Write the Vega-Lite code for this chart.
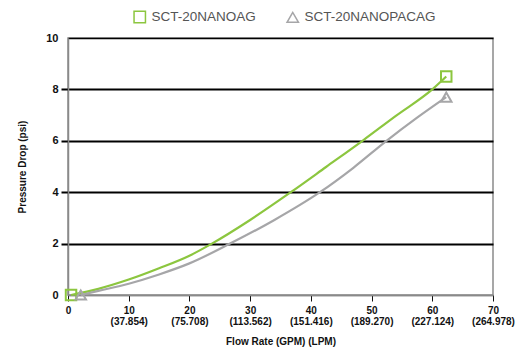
{
  "$schema": "https://vega.github.io/schema/vega-lite/v6.json",
  "autosize": {"type": "none"},
  "padding": {"left": 68, "top": 38, "right": 27, "bottom": 56},
  "width": 425,
  "height": 257,
  "config": {
    "font": "Liberation Sans",
    "view": {"stroke": "#8a8a8a", "strokeWidth": 1.5}
  },
  "datasets": {
    "curves": [
      {"series": "SCT-20NANOAG", "flow": 0.5, "psi": 0},
      {"series": "SCT-20NANOAG", "flow": 5, "psi": 0.24},
      {"series": "SCT-20NANOAG", "flow": 10, "psi": 0.6},
      {"series": "SCT-20NANOAG", "flow": 15, "psi": 1.04},
      {"series": "SCT-20NANOAG", "flow": 20, "psi": 1.53},
      {"series": "SCT-20NANOAG", "flow": 23.7, "psi": 2},
      {"series": "SCT-20NANOAG", "flow": 30, "psi": 2.92},
      {"series": "SCT-20NANOAG", "flow": 36.7, "psi": 4},
      {"series": "SCT-20NANOAG", "flow": 42.5, "psi": 4.98},
      {"series": "SCT-20NANOAG", "flow": 48.5, "psi": 6},
      {"series": "SCT-20NANOAG", "flow": 54, "psi": 6.97},
      {"series": "SCT-20NANOAG", "flow": 60, "psi": 8},
      {"series": "SCT-20NANOAG", "flow": 62.3, "psi": 8.5},
      {"series": "SCT-20NANOPACAG", "flow": 2.1, "psi": 0},
      {"series": "SCT-20NANOPACAG", "flow": 5, "psi": 0.16},
      {"series": "SCT-20NANOPACAG", "flow": 10, "psi": 0.44},
      {"series": "SCT-20NANOPACAG", "flow": 15, "psi": 0.8},
      {"series": "SCT-20NANOPACAG", "flow": 20, "psi": 1.23},
      {"series": "SCT-20NANOPACAG", "flow": 26.7, "psi": 2},
      {"series": "SCT-20NANOPACAG", "flow": 34, "psi": 2.92},
      {"series": "SCT-20NANOPACAG", "flow": 41.5, "psi": 4},
      {"series": "SCT-20NANOPACAG", "flow": 47, "psi": 4.95},
      {"series": "SCT-20NANOPACAG", "flow": 52.3, "psi": 5.97},
      {"series": "SCT-20NANOPACAG", "flow": 57.5, "psi": 6.9},
      {"series": "SCT-20NANOPACAG", "flow": 62.3, "psi": 7.7}
    ]
  },
  "data": {"name": "curves"},
  "encoding": {
    "x": {
      "field": "flow",
      "type": "quantitative",
      "scale": {"domain": [0, 70], "nice": false, "zero": true},
      "axis": {
        "title": "Flow Rate (GPM) (LPM)",
        "titleFont": "Liberation Sans",
        "titleFontSize": 10,
        "titleFontWeight": "bold",
        "titleColor": "#111",
        "titlePadding": 10,
        "values": [0, 10, 20, 30, 40, 50, 60, 70],
        "labelExpr": "datum.value == 0 ? '0' : [datum.label, '(' + format(datum.value * 3.7854, '.3f') + ')']",
        "labelFontSize": 10,
        "labelFontWeight": "bold",
        "labelColor": "#111",
        "labelLineHeight": 11,
        "labelPadding": 4,
        "labelFlush": false,
        "labelOverlap": false,
        "grid": false,
        "domainColor": "#8a8a8a",
        "domainWidth": 1.5,
        "tickColor": "#111",
        "tickSize": 6,
        "tickWidth": 1
      }
    },
    "y": {
      "field": "psi",
      "type": "quantitative",
      "scale": {"domain": [0, 10], "nice": false},
      "axis": {
        "title": "Pressure Drop (psi)",
        "titleFont": "Liberation Sans",
        "titleFontSize": 10,
        "titleFontWeight": "bold",
        "titleColor": "#111",
        "titlePadding": 18,
        "values": [0, 2, 4, 6, 8, 10],
        "labelFontSize": 11,
        "labelFontWeight": "bold",
        "labelColor": "#111",
        "labelPadding": 3,
        "labelFlush": false,
        "grid": true,
        "gridColor": {"condition": {"test": "datum.value == 0", "value": "#8a8a8a"}, "value": "#000"},
        "gridWidth": {"condition": {"test": "datum.value == 10 || datum.value == 0", "value": 1.5}, "value": 2},
        "gridOpacity": 1,
        "domainColor": "#8a8a8a",
        "domainWidth": 1.5,
        "tickColor": "#000",
        "tickSize": 7,
        "tickWidth": 2,
        "tickOpacity": {"condition": {"test": "datum.value == 0 || datum.value == 10", "value": 0}, "value": 1}
      }
    },
    "color": {
      "field": "series",
      "type": "nominal",
      "scale": {"domain": ["SCT-20NANOAG", "SCT-20NANOPACAG"], "range": ["#8cc63f", "#a6a6a8"]},
      "legend": {
        "title": null,
        "orient": "none",
        "legendX": 65,
        "legendY": -28,
        "direction": "horizontal",
        "labelFont": "Liberation Sans",
        "labelFontSize": 13.5,
        "labelColor": "#555",
        "symbolSize": 130,
        "symbolStrokeWidth": 1.5,
        "symbolFillColor": "transparent",
        "labelOffset": 5,
        "columnPadding": 28,
        "padding": 0
      }
    }
  },
  "layer": [
    {
      "mark": {"type": "line", "interpolate": "monotone", "strokeWidth": 2.2, "clip": false}
    },
    {
      "transform": [
        {"joinaggregate": [{"op": "min", "field": "flow", "as": "fmin"}, {"op": "max", "field": "flow", "as": "fmax"}], "groupby": ["series"]},
        {"filter": "datum.flow == datum.fmin || datum.flow == datum.fmax"}
      ],
      "mark": {"type": "point", "filled": false, "strokeWidth": 2, "opacity": 1, "clip": false},
      "encoding": {
        "shape": {
          "field": "series",
          "type": "nominal",
          "scale": {"domain": ["SCT-20NANOAG", "SCT-20NANOPACAG"], "range": ["square", "triangle-up"]},
          "legend": {
            "title": null,
            "orient": "none",
            "legendX": 65,
            "legendY": -28,
            "direction": "horizontal",
            "labelFont": "Liberation Sans",
            "labelFontSize": 13.5,
            "labelColor": "#555",
            "symbolSize": 130,
            "symbolStrokeWidth": 1.5,
            "symbolFillColor": "transparent",
            "labelOffset": 5,
            "columnPadding": 28,
            "padding": 0
          }
        },
        "size": {"value": 110}
      }
    }
  ]
}
